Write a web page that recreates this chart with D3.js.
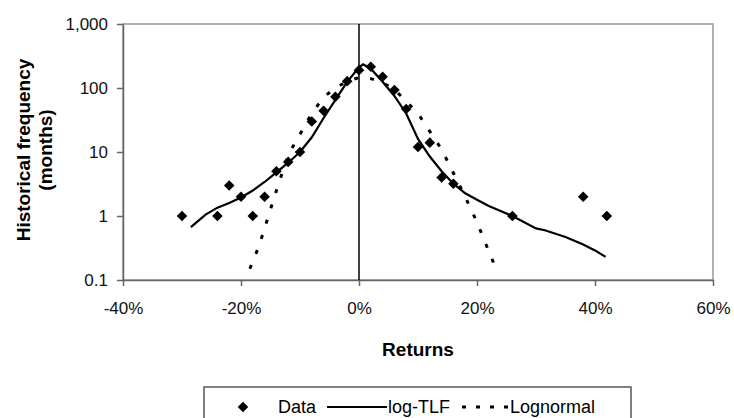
<!DOCTYPE html>
<html>
<head>
<meta charset="utf-8">
<script src="https://cdn.jsdelivr.net/npm/d3@7"></script>
<style>
  body { margin: 0; background: #fff; }
  svg { display: block; font-family: "Liberation Sans", Arial, sans-serif; }
  .axis text { font-size: 17px; fill: #111; }
  .axis path, .axis line { stroke: #666; stroke-width: 1.5px; }
</style>
</head>
<body>
<svg id="chart" width="734" height="418"></svg>
<script>
// returns (fraction) and monthly counts
var dataX = [-0.30, -0.24, -0.22, -0.20, -0.18, -0.16, -0.14, -0.12, -0.10, -0.08, -0.06, -0.04, -0.02,
             0.00, 0.02, 0.04, 0.06, 0.08, 0.10, 0.12, 0.14, 0.16, 0.26, 0.38, 0.42];
var dataY = [1, 1, 3, 2, 1, 2, 5, 7, 10, 30, 44, 73, 128,
             190, 215, 150, 93, 47, 12, 14, 4, 3.2, 1, 2, 1];

var tlfX = [-0.285, -0.26, -0.24, -0.22, -0.20, -0.18, -0.16, -0.14, -0.12, -0.10, -0.08, -0.06, -0.04, -0.02,
            0.00, 0.007, 0.02, 0.04, 0.06, 0.08, 0.10, 0.12, 0.14, 0.16, 0.18, 0.20, 0.22, 0.24, 0.26,
            0.30, 0.315, 0.35, 0.38, 0.40, 0.418];
var tlfY = [0.67, 1.05, 1.35, 1.6, 1.95, 2.5, 3.4, 4.8, 6.8, 10, 17, 34, 65, 125,
            210, 235, 200, 125, 75, 40, 16, 8.5, 5, 3.2, 2.26, 1.8, 1.43, 1.2, 1.0,
            0.64, 0.6, 0.47, 0.36, 0.29, 0.23];

var lognX = [-0.185, -0.17, -0.16, -0.15, -0.14, -0.12, -0.10, -0.08, -0.06, -0.04, -0.02, 0.00,
             0.02, 0.04, 0.06, 0.08, 0.10, 0.12, 0.14, 0.16, 0.18, 0.20, 0.22, 0.235];
var lognY = [0.15, 0.33, 0.64, 1.27, 2.5, 9, 19, 40, 72, 100, 128, 145,
             140, 122, 95, 62, 40, 21, 11, 4.7, 2, 0.8, 0.28, 0.13];

var xTicks = [-0.4, -0.2, 0, 0.2, 0.4, 0.6];
var xTickLabels = ['-40%', '-20%', '0%', '20%', '40%', '60%'];
var yTicks = [0.1, 1, 10, 100, 1000];
var yTickLabels = ['0.1', '1', '10', '100', '1,000'];

var legendLabels = ['Data', 'log-TLF', 'Lognormal'];

(function () {
    'use strict';

    var svg = d3.select('#chart'),
        left = 123, right = 713, top = 24, bottom = 280;

    var x = d3.scaleLinear().domain([-0.4, 0.6]).range([left, right]),
        y = d3.scaleLog().domain([0.1, 1000]).range([bottom, top]);

    function zip(xs, ys) {
        return xs.map(function (v, i) { return [v, ys[i]]; });
    }

    // plot frame (top / right edges)
    svg.append('rect')
        .attr('x', left).attr('y', top)
        .attr('width', right - left).attr('height', bottom - top)
        .style('fill', 'none')
        .style('stroke', '#999')
        .style('stroke-width', 1.5);

    svg.append('g')
        .attr('class', 'axis')
        .attr('transform', 'translate(' + left + ',0)')
        .call(d3.axisLeft(y)
            .tickValues(yTicks)
            .tickSizeInner(6).tickSizeOuter(0).tickPadding(9)
            .tickFormat(function (d, i) { return yTickLabels[i]; }));

    svg.append('g')
        .attr('class', 'axis')
        .attr('transform', 'translate(0,' + bottom + ')')
        .call(d3.axisBottom(x)
            .tickValues(xTicks)
            .tickSizeInner(6).tickSizeOuter(0).tickPadding(16)
            .tickFormat(function (d, i) { return xTickLabels[i]; }));

    // zero line
    svg.append('line')
        .attr('x1', x(0)).attr('x2', x(0))
        .attr('y1', top).attr('y2', bottom)
        .style('stroke', '#000')
        .style('stroke-width', 1.5);

    var line = d3.line()
        .x(function (d) { return x(d[0]); })
        .y(function (d) { return y(d[1]); });

    svg.append('path')
        .datum(zip(lognX, lognY))
        .attr('d', line)
        .style('fill', 'none')
        .style('stroke', '#000')
        .style('stroke-width', 3)
        .style('stroke-dasharray', '4,12');

    svg.append('path')
        .datum(zip(tlfX, tlfY))
        .attr('d', line)
        .style('fill', 'none')
        .style('stroke', '#000')
        .style('stroke-width', 2.2);

    var diamond = d3.symbol().type(d3.symbolSquare).size(56);

    svg.append('g').selectAll('path')
        .data(zip(dataX, dataY))
        .enter().append('path')
        .attr('d', diamond)
        .attr('transform', function (d) {
            return 'translate(' + x(d[0]) + ',' + y(d[1]) + ') rotate(45)';
        })
        .style('fill', '#000');

    // axis titles
    svg.append('text')
        .attr('x', (left + right) / 2).attr('y', 356)
        .attr('text-anchor', 'middle')
        .style('font-size', '19px').style('font-weight', 'bold')
        .text('Returns');

    var yTitle = svg.append('text')
        .attr('transform', 'translate(0,150) rotate(-90)')
        .attr('text-anchor', 'middle')
        .style('font-size', '19px').style('font-weight', 'bold');
    yTitle.append('tspan').attr('x', 0).attr('y', 30).text('Historical frequency');
    yTitle.append('tspan').attr('x', 0).attr('y', 52).text('(months)');

    // legend (runs off the bottom edge, as in the scan)
    var lg = svg.append('g');
    lg.append('rect')
        .attr('x', 204).attr('y', 387)
        .attr('width', 427).attr('height', 45)
        .style('fill', '#fff')
        .style('stroke', '#555')
        .style('stroke-width', 1.5);

    var ly = 407;
    lg.append('path')
        .attr('d', diamond)
        .attr('transform', 'translate(243,' + ly + ') rotate(45)')
        .style('fill', '#000');
    lg.append('line')
        .attr('x1', 327).attr('x2', 387).attr('y1', ly).attr('y2', ly)
        .style('stroke', '#000').style('stroke-width', 2.2);
    lg.append('line')
        .attr('x1', 462).attr('x2', 509).attr('y1', ly).attr('y2', ly)
        .style('stroke', '#000').style('stroke-width', 3)
        .style('stroke-dasharray', '4,10');

    var lx = [278, 388, 510];
    lg.selectAll('text.lbl')
        .data(legendLabels)
        .enter().append('text')
        .attr('class', 'lbl')
        .attr('x', function (d, i) { return lx[i]; })
        .attr('y', ly + 6)
        .style('font-size', '18px')
        .text(function (d) { return d; });
})();
</script>
</body>
</html>
